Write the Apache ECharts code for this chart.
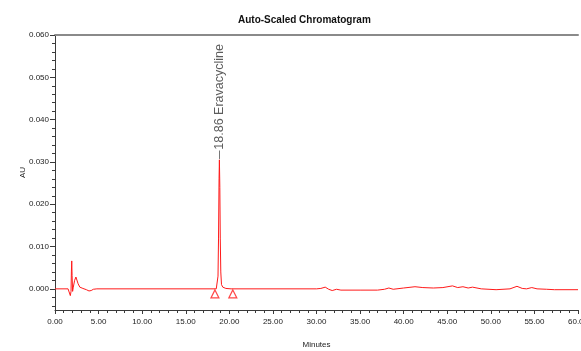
<!DOCTYPE html>
<html>
<head>
<meta charset="utf-8">
<script src="https://cdn.jsdelivr.net/npm/echarts@6/dist/echarts.min.js"></script>
<style>html,body{margin:0;padding:0;background:#fff;}#c{width:581px;height:351px;}</style>
</head>
<body>
<div id="c"></div>
<script>
const chartTitle = 'Auto-Scaled Chromatogram';
const xAxisName = 'Minutes';
const yAxisName = 'AU';
const timeMin = [0, 1.5, 1.62, 1.7, 1.76, 1.8, 1.84, 1.88, 1.92, 1.96, 2.02, 2.1, 2.25, 2.4, 2.5, 2.65, 2.85, 3.2, 3.6, 3.9, 4.0, 4.15, 4.4, 4.8,
  18.5, 18.62, 18.7, 18.76, 18.82, 18.86, 18.91, 18.96, 19.02, 19.1, 19.25, 19.6, 20.2,
  30.0, 30.5, 31.0, 31.4, 31.8, 32.3, 32.8, 35, 37, 37.8, 38.3, 38.8, 40.0, 41.3, 42.2, 43.4, 44.5, 45.6, 46.2, 46.8, 47.4, 47.9, 48.9,
  50.6, 52.2, 53.0, 53.6, 54.1, 54.7, 55.3, 56.4, 57.3, 60];
const absorbance = [0, 0, -0.0002, 0.0004, -0.0016, -0.0020, -0.0006, 0.0040, 0.0066, 0.0032, -0.0006, 0.0004, 0.0020, 0.0028, 0.0024, 0.0012, 0.0004, 0.0001, -0.0002, -0.0005, -0.0006, -0.0004, -0.0001, 0,
  0, 0.0004, 0.0030, 0.0120, 0.0260, 0.0305, 0.0240, 0.0120, 0.0040, 0.0010, 0.0004, 0.0001, 0,
  0, 0.0001, 0.0004, -0.0001, -0.0004, -0.0001, -0.0003, -0.0003, -0.0003, -0.0001, 0.0002, -0.0001, 0.0002, 0.0005, 0.0003, 0.0002, 0.0003, 0.0007, 0.0003, 0.0005, 0.0002, 0.0004, 0.0000,
  -0.0002, 0.0000, 0.0006, 0.0001, 0.0000, 0.0003, 0.0000, -0.0001, -0.0002, -0.0002];
const peakTime = [18.86];
const peakHeight = [0.0305];
const peakLabels = ['18.86 Eravacycline'];
const baselineMarkTimes = [18.35, 20.4];
const baselineMarkLevel = [-0.0012, -0.0012];
const yMajorTicks = [0, 0.01, 0.02, 0.03, 0.04, 0.05, 0.06];
const yMinorTicks = [-0.004, -0.002, 0.002, 0.004, 0.006, 0.008, 0.012, 0.014, 0.016, 0.018, 0.022, 0.024, 0.026, 0.028, 0.032, 0.034, 0.036, 0.038, 0.042, 0.044, 0.046, 0.048, 0.052, 0.054, 0.056, 0.058];

const lineData = timeMin.map((t, i) => [t, absorbance[i]]);
const markData = baselineMarkTimes.map((t, i) => [t, baselineMarkLevel[i]]);
const labelGap = 0.0022;
const peakLabelData = peakTime.map((t, i) => ({ value: [t, peakHeight[i] + labelGap + 0.0002], name: peakLabels[i] }));
const leaderLines = peakTime.map((t, i) => [{ coord: [t, peakHeight[i] + 0.0002] }, { coord: [t, peakHeight[i] + labelGap] }]);

const font = 'Liberation Sans, Arial, sans-serif';
const axisColor = '#3a3a3a';
const chart = echarts.init(document.getElementById('c'), null, { renderer: 'canvas' });
chart.setOption({
  animation: false,
  backgroundColor: '#fff',
  title: {
    text: chartTitle, left: 233, top: 10,
    textStyle: { fontFamily: font, fontWeight: 'bold', fontSize: 10, color: '#111' }
  },
  grid: { left: 55, right: 3, top: 35, bottom: 41, outerBoundsMode: 'none', containLabel: false },
  xAxis: [{
    type: 'value', min: 0, max: 60, interval: 5, position: 'bottom',
    name: xAxisName, nameLocation: 'middle', nameGap: 31, nameMoveOverlap: false,
    nameTextStyle: { fontFamily: font, fontSize: 8, color: '#222' },
    axisLine: { show: true, onZero: false, lineStyle: { color: axisColor, width: 1 } },
    axisTick: { show: true, inside: false, length: 4, lineStyle: { color: axisColor } },
    minorTick: { show: true, splitNumber: 5, length: 3, lineStyle: { color: axisColor } },
    axisLabel: { fontFamily: font, fontSize: 8, color: '#222', margin: 8, hideOverlap: false, formatter: v => v.toFixed(2) },
    splitLine: { show: false }
  }, {
    type: 'value', min: 0, max: 60, position: 'top',
    axisLine: { show: true, onZero: false, lineStyle: { color: '#8a8a8a', width: 2 } },
    axisTick: { show: false }, axisLabel: { show: false }, splitLine: { show: false }
  }],
  yAxis: [{
    type: 'value', min: -0.005, max: 0.06, position: 'left',
    name: yAxisName, nameLocation: 'middle', nameGap: 28, nameRotate: 90, nameMoveOverlap: false,
    nameTextStyle: { fontFamily: font, fontSize: 8, color: '#222' },
    axisLine: { show: true, onZero: false, lineStyle: { color: axisColor, width: 1 } },
    axisTick: { show: true, length: 5, customValues: yMajorTicks, lineStyle: { color: axisColor } },
    axisLabel: { fontFamily: font, fontSize: 8, color: '#222', margin: 6, customValues: yMajorTicks, formatter: v => v.toFixed(3) },
    splitLine: { show: false }
  }, {
    type: 'value', min: -0.005, max: 0.06, position: 'left',
    axisLine: { show: false, onZero: false },
    axisTick: { show: true, length: 3, customValues: yMinorTicks, lineStyle: { color: axisColor } },
    axisLabel: { show: false }, splitLine: { show: false }
  }],
  series: [{
    type: 'line', data: lineData, showSymbol: false, symbol: 'none',
    lineStyle: { color: '#ff1a1a', width: 1 }, silent: true, z: 3
  }, {
    type: 'scatter', data: markData, symbol: 'triangle', symbolSize: [8, 8],
    itemStyle: { color: '#fff', borderColor: '#ff1a1a', borderWidth: 1.2 }, z: 4
  }, {
    type: 'scatter', data: peakLabelData, symbolSize: 0,
    label: {
      show: true, position: 'top', distance: 0, rotate: 90, align: 'left', verticalAlign: 'middle',
      formatter: p => p.name, fontFamily: font, fontSize: 12.5, color: '#333'
    },
    markLine: {
      silent: true, symbol: 'none', label: { show: false },
      lineStyle: { color: '#777', width: 1, type: 'solid' }, data: leaderLines
    }
  }]
});
</script>
</body>
</html>
